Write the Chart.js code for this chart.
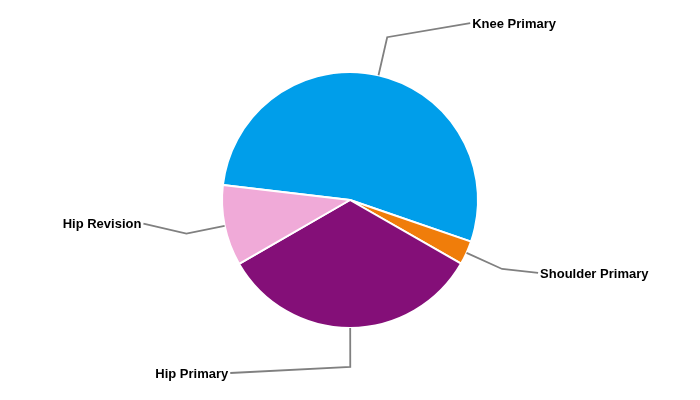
<!DOCTYPE html>
<html>
<head>
<meta charset="utf-8">
<script src="https://cdn.jsdelivr.net/npm/chart.js@4/dist/chart.umd.min.js"></script>
<style>
html,body{margin:0;padding:0;background:#fff;}
#wrap{width:700px;height:400px;position:relative;}
</style>
</head>
<body>
<div id="wrap"><canvas id="c" width="700" height="400"></canvas></div>
<script>
const categories = ["Knee Primary", "Shoulder Primary", "Hip Primary", "Hip Revision"];
const values = [53.4, 3.0, 33.4, 10.2];
const colors = ["rgb(0,158,234)", "rgb(240,125,10)", "rgb(132,15,120)", "rgb(240,170,216)"];
const labelOffsets = [[83, -14], [36, 4], [-120, 6], [-43, -10]];

const calloutPlugin = {
  id: 'callouts',
  afterDatasetsDraw(chart) {
    const ctx = chart.ctx;
    const meta = chart.getDatasetMeta(0);
    ctx.save();
    ctx.font = 'bold 13px "Liberation Sans", Arial, sans-serif';
    ctx.textBaseline = 'middle';
    meta.data.forEach((arc, i) => {
      const p = arc.getProps(['x','y','startAngle','endAngle','outerRadius'], true);
      const mid = (p.startAngle + p.endAngle) / 2;
      const r0 = p.outerRadius;
      const r1 = p.outerRadius + 39;
      const x0 = p.x + Math.cos(mid) * r0, y0 = p.y + Math.sin(mid) * r0;
      const x1 = p.x + Math.cos(mid) * r1, y1 = p.y + Math.sin(mid) * r1;
      const x2 = x1 + labelOffsets[i][0], y2 = y1 + labelOffsets[i][1];
      ctx.strokeStyle = 'rgb(128,128,128)';
      ctx.lineWidth = 1.8;
      ctx.beginPath();
      ctx.moveTo(x0, y0); ctx.lineTo(x1, y1); ctx.lineTo(x2, y2);
      ctx.stroke();
      ctx.fillStyle = '#000';
      const right = labelOffsets[i][0] > 0;
      ctx.textAlign = right ? 'left' : 'right';
      ctx.fillText(categories[i], x2 + (right ? 2 : -2), y2 + 1);
    });
    ctx.restore();
  }
};

new Chart(document.getElementById('c'), {
  type: 'pie',
  data: {
    labels: categories,
    datasets: [{
      data: values,
      backgroundColor: colors,
      borderColor: '#ffffff',
      borderWidth: 2
    }]
  },
  options: {
    responsive: false,
    animation: false,
    radius: 128,
    rotation: 276.75,
    plugins: { legend: { display: false }, tooltip: { enabled: false } }
  },
  plugins: [calloutPlugin]
});
</script>
</body>
</html>
